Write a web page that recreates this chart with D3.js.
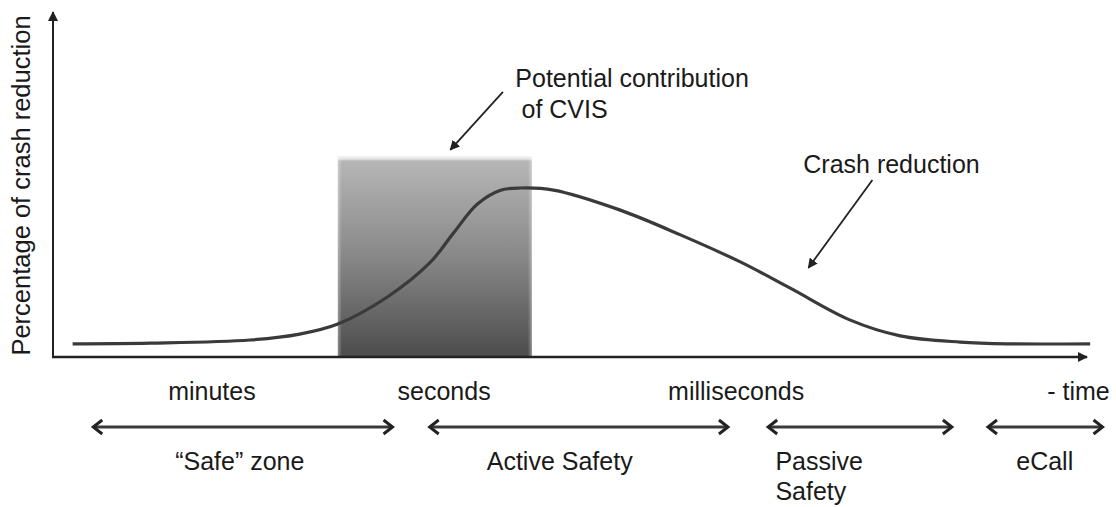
<!DOCTYPE html>
<html>
<head>
<meta charset="utf-8">
<script src="https://cdn.jsdelivr.net/npm/d3@7"></script>
<style>
  html, body { margin: 0; padding: 0; background: #fff; }
  svg { display: block; }
  text { font-family: "Liberation Sans", Arial, sans-serif; fill: #1a1a1a; }
</style>
</head>
<body>
<div id="chart"></div>
<script>
(function() {
    'use strict';

    // crash reduction curve (time in arbitrary 0-100 units, percentage 0-100)
    const curveTime = [1.9, 9.4, 19.1, 23.9, 27.6, 32.4, 36.5, 38.8, 41.1, 43.3, 45.3, 48.5, 54.9, 60.8, 66.6, 71.4, 77.2, 82.1, 87.9, 92.7, 100.5];
    const curvePct  = [3.8, 4.0, 4.9, 6.6, 9.5, 17.3, 27.1, 35.7, 44.0, 48.0, 48.7, 48.1, 42.4, 35.2, 27.4, 19.9, 10.7, 6.1, 4.3, 3.8, 3.8];

    // CVIS box: time span and height
    const cvisSpan = [27.6, 46.4];
    const cvisPct = 57.9;

    // time-scale labels above the zone arrows
    const timeLabels = ['minutes', 'seconds', 'milliseconds', '- time'];
    const timeLabelPos = [15.4, 37.9, 66.2, 102.4];

    // zones
    const zoneNames = [['\u201cSafe\u201d zone'], ['Active Safety'], ['Passive', 'Safety'], ['eCall']];
    const zoneStart = [3.9, 36.5, 69.3, 90.6];
    const zoneEnd   = [32.9, 65.4, 87.1, 101.7];
    const zoneLabelPos = [18.1, 49.1, 70.0, 96.1];

    const W = 1116, H = 507;
    const x = d3.scaleLinear().domain([0, 100]).range([53, 1085]);
    const y = d3.scaleLinear().domain([0, 100]).range([357, 10]);

    const svg = d3.select('#chart').append('svg')
        .attr('width', W)
        .attr('height', H);

    const defs = svg.append('defs');

    const grad = defs.append('linearGradient')
        .attr('id', 'boxGrad')
        .attr('x1', 0).attr('y1', 0).attr('x2', 0).attr('y2', 1);
    grad.append('stop').attr('offset', '0%').attr('stop-color', '#b8b8b8');
    grad.append('stop').attr('offset', '50%').attr('stop-color', '#888');
    grad.append('stop').attr('offset', '100%').attr('stop-color', '#4c4c4c');

    const shine = defs.append('linearGradient')
        .attr('id', 'shine')
        .attr('x1', 0).attr('y1', 0).attr('x2', 0).attr('y2', 1);
    shine.append('stop').attr('offset', '0%').attr('stop-color', '#fff').attr('stop-opacity', 0.9);
    shine.append('stop').attr('offset', '60%').attr('stop-color', '#fff').attr('stop-opacity', 0.6);
    shine.append('stop').attr('offset', '100%').attr('stop-color', '#fff').attr('stop-opacity', 0);

    const side = defs.append('linearGradient')
        .attr('id', 'side')
        .attr('x1', 0).attr('y1', 0).attr('x2', 1).attr('y2', 0);
    side.append('stop').attr('offset', '0%').attr('stop-color', '#fff').attr('stop-opacity', 0.35);
    side.append('stop').attr('offset', '100%').attr('stop-color', '#fff').attr('stop-opacity', 0);

    // filled triangle head
    defs.append('marker')
        .attr('id', 'tri')
        .attr('viewBox', '0 0 10 10')
        .attr('refX', 9).attr('refY', 5)
        .attr('markerWidth', 10).attr('markerHeight', 10)
        .attr('markerUnits', 'userSpaceOnUse')
        .attr('orient', 'auto')
        .append('path')
        .attr('d', 'M0,0 L10,5 L0,10 Z')
        .attr('fill', '#222');

    // CVIS box
    const bx0 = x(cvisSpan[0]), bx1 = x(cvisSpan[1]);
    const by0 = y(cvisPct), by1 = y(0);
    svg.append('rect')
        .attr('x', bx0).attr('y', by0)
        .attr('width', bx1 - bx0).attr('height', by1 - by0)
        .attr('fill', 'url(#boxGrad)');
    svg.append('rect')
        .attr('x', bx0).attr('y', by0)
        .attr('width', 4).attr('height', by1 - by0)
        .attr('fill', 'url(#side)');
    svg.append('rect')
        .attr('x', bx1 - 4).attr('y', by0)
        .attr('width', 4).attr('height', by1 - by0)
        .attr('fill', 'url(#side)')
        .attr('transform', `rotate(180, ${bx1 - 2}, ${(by0 + by1) / 2})`);
    svg.append('rect')
        .attr('x', bx0).attr('y', by0)
        .attr('width', bx1 - bx0).attr('height', 5)
        .attr('fill', 'url(#shine)');

    // crash reduction curve
    const pts = curveTime.map((t, i) => [x(t), y(curvePct[i])]);
    svg.append('path')
        .attr('d', d3.line().curve(d3.curveCatmullRom.alpha(0.5))(pts))
        .attr('fill', 'none')
        .attr('stroke', '#3a3a3a')
        .attr('stroke-width', 3.2);

    // axes
    svg.append('line')
        .attr('x1', x(0)).attr('y1', y(0))
        .attr('x2', x(0)).attr('y2', y(100) + 2)
        .attr('stroke', '#222').attr('stroke-width', 2)
        .attr('marker-end', 'url(#tri)');
    svg.append('line')
        .attr('x1', x(0) - 1).attr('y1', y(0))
        .attr('x2', x(100) + 2).attr('y2', y(0))
        .attr('stroke', '#222').attr('stroke-width', 2.5)
        .attr('marker-end', 'url(#tri)');

    svg.append('text')
        .attr('transform', `translate(30, ${(y(0) + y(100)) / 2 + 2}) rotate(-90)`)
        .attr('text-anchor', 'middle')
        .style('font-size', '25.5px')
        .text('Percentage of crash reduction');

    // annotations
    const ann = svg.append('text')
        .attr('x', x(44.8)).attr('y', y(77.8))
        .style('font-size', '25px');
    ann.append('tspan').text('Potential contribution');
    ann.append('tspan').attr('x', x(45.4)).attr('dy', 31).text('of CVIS');

    svg.append('line')
        .attr('x1', x(43.6)).attr('y1', y(76.4))
        .attr('x2', x(38.5)).attr('y2', y(59.7))
        .attr('stroke', '#222').attr('stroke-width', 1.8)
        .attr('marker-end', 'url(#tri)');

    svg.append('text')
        .attr('x', x(72.7)).attr('y', y(53.0))
        .style('font-size', '25px')
        .text('Crash reduction');

    svg.append('line')
        .attr('x1', x(79.4)).attr('y1', y(51.0))
        .attr('x2', x(73.2)).attr('y2', y(25.7))
        .attr('stroke', '#222').attr('stroke-width', 1.8)
        .attr('marker-end', 'url(#tri)');

    // time labels
    svg.selectAll('.tlabel')
        .data(timeLabels)
        .enter()
        .append('text')
        .attr('class', 'tlabel')
        .attr('x', (d, i) => x(timeLabelPos[i]))
        .attr('y', 400)
        .attr('text-anchor', (d, i) => i === timeLabels.length - 1 ? 'end' : 'middle')
        .style('font-size', '25px')
        .text(d => d);

    // zone double arrows
    const arrowY = 427;
    const zones = svg.selectAll('.zone')
        .data(zoneStart.map((s, i) => ({ s, e: zoneEnd[i], name: zoneNames[i], lx: zoneLabelPos[i] })))
        .enter()
        .append('g')
        .attr('class', 'zone');

    zones.append('line')
        .attr('x1', d => x(d.s) + 1).attr('x2', d => x(d.e) - 1)
        .attr('y1', arrowY).attr('y2', arrowY)
        .attr('stroke', '#3a3a3a').attr('stroke-width', 3);

    zones.append('path')
        .attr('d', d => {
            const a = x(d.s), b = x(d.e);
            return `M${a + 9},${arrowY - 7} L${a},${arrowY} L${a + 9},${arrowY + 7}` +
                   `M${b - 9},${arrowY - 7} L${b},${arrowY} L${b - 9},${arrowY + 7}`;
        })
        .attr('fill', 'none')
        .attr('stroke', '#222').attr('stroke-width', 3)
        .attr('stroke-linejoin', 'miter');

    const zt = zones.append('text')
        .attr('x', d => x(d.lx))
        .attr('y', 470)
        .attr('text-anchor', (d, i) => i === 2 ? 'start' : 'middle')
        .style('font-size', '25px');
    zt.selectAll('tspan')
        .data(d => d.name.map(n => ({ n, lx: d.lx })))
        .enter()
        .append('tspan')
        .attr('x', d => x(d.lx))
        .attr('dy', (d, i) => i === 0 ? 0 : 30)
        .text(d => d.n);
})();
</script>
</body>
</html>
